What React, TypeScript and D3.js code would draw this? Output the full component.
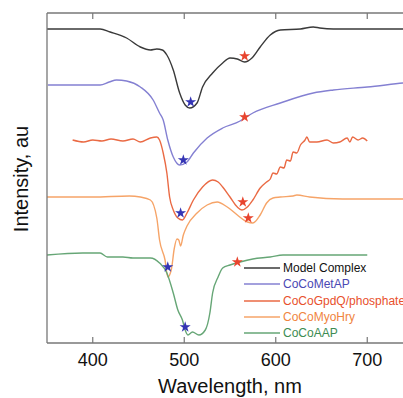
import React from "react";
import * as d3 from "d3";

// wavelength (nm) / intensity (arbitrary units, offset per trace)
const modelWl = [350, 380, 408, 419, 437, 452, 463, 470, 476, 481, 488, 495, 501, 506, 514, 520, 531, 542, 550, 558, 566, 574, 583, 594, 605, 627, 641, 648, 663, 700, 750];
const modelI = [314, 314, 314, 311, 305, 296, 293, 294, 293, 288, 273, 250, 238, 235, 240, 256, 270, 280, 285, 284, 281, 285, 296, 308, 313, 314, 316, 315, 314, 314, 314];

const metWl = [351, 372, 408, 418, 426, 437, 452, 466, 473, 477, 482, 488, 495, 503, 510, 525, 542, 561, 566, 575, 605, 641, 663, 700, 739, 750];
const metI = [258, 258, 258, 261, 263, 262, 256, 243, 230, 223, 203, 186, 178, 181, 190, 205, 215, 222, 225, 230, 240, 250, 253, 256, 260, 261];

const gpdWl = [378, 390, 400, 410, 420, 433, 444, 452, 463, 470, 473, 477, 481, 484, 488, 493, 498, 503, 510, 520, 531, 537, 542, 550, 558, 563, 569, 575, 583, 590, 594, 597, 601, 605, 609, 612, 616, 619, 623, 627, 632, 634, 637, 645, 656, 663, 670, 678, 681, 684, 690, 695, 700];
const gpdI = [203, 201, 203, 202, 204, 202, 204, 201, 205, 206, 203, 190, 170, 146, 133, 125, 123, 130, 143, 156, 163, 161, 156, 146, 136, 133, 136, 143, 155, 161, 164, 170, 169, 176, 175, 183, 182, 191, 190, 198, 203, 206, 201, 201, 203, 200, 201, 205, 201, 206, 203, 205, 202];

const myoWl = [350, 400, 440, 452, 463, 470, 473, 479, 482, 486, 489, 492, 494, 496, 499, 503, 514, 525, 536, 547, 558, 569, 575, 583, 590, 597, 605, 619, 623, 637, 673, 739, 750];
const myoI = [146, 146, 147, 146, 143, 125, 103, 83, 66, 74, 94, 104, 103, 97, 108, 117, 130, 138, 141, 136, 128, 121, 120, 128, 140, 145, 146, 147, 148, 146, 144, 144, 144];

const aapWl = [350, 389, 408, 416, 433, 444, 452, 463, 473, 481, 488, 493, 498, 501, 504, 509, 516, 523, 528, 531, 537, 542, 550, 561, 575, 594, 608, 645, 700];
const aapI = [88, 90, 90, 86, 86, 85, 85, 85, 80, 70, 50, 33, 23, 13, 8, 11, 8, 13, 30, 50, 66, 75, 78, 81, 84, 86, 88, 88, 88];

const blueStarWl = [507, 499, 496, 482, 501];
const blueStarI = [241, 183, 130, 76, 16];
const redStarWl = [566, 566, 564, 570, 558];
const redStarI = [287, 226, 141, 125, 81];

const names = ["Model Complex", "CoCoMetAP", "CoCoGpdQ/phosphate", "CoCoMyoHry", "CoCoAAP"];
const lineColors = ["#3a3a3a", "#8480d2", "#ea6a44", "#f6a468", "#66a676"];
const textColors = ["#111111", "#4a48b4", "#e8502c", "#f0843e", "#3c8c52"];
const xTicks = [400, 500, 600, 700];

const W = 403;
const H = 398;
const left = 47;
const right = 413;
const top = 13;
const bottom = 343;

export default function App() {
  const x = d3.scaleLinear().domain([350, 750]).range([left, right]);
  const y = d3.scaleLinear().domain([0, 330]).range([bottom, top]);

  const series = [
    [modelWl, modelI],
    [metWl, metI],
    [gpdWl, gpdI],
    [myoWl, myoI],
    [aapWl, aapI],
  ];

  const line = d3
    .line<[number, number]>()
    .x((d) => x(d[0]))
    .y((d) => y(d[1]))
    .curve(d3.curveMonotoneX);

  const star = d3.symbol().type(d3.symbolStar).size(38);
  const font = "'Liberation Sans', Arial, sans-serif";
  const axisColor = "#777";

  return (
    <svg width={W} height={H} style={{ position: "absolute", left: 0, top: 0, background: "#fff" }}>
      <defs>
        <clipPath id="plot">
          <rect x={left} y={top} width={right - left} height={bottom - top} />
        </clipPath>
      </defs>

      <g clipPath="url(#plot)">
        {series.map((s, i) => (
          <path
            key={i}
            d={line(s[0].map((w, j) => [w, s[1][j]] as [number, number])) || ""}
            fill="none"
            stroke={lineColors[i]}
            strokeWidth={1.4}
            strokeLinejoin="round"
          />
        ))}
        {blueStarWl.map((w, i) => (
          <path key={"b" + i} d={star() || ""} transform={`translate(${x(w)},${y(blueStarI[i])})`} fill="#3434b4" />
        ))}
        {redStarWl.map((w, i) => (
          <path key={"r" + i} d={star() || ""} transform={`translate(${x(w)},${y(redStarI[i])})`} fill="#e8442e" />
        ))}
      </g>

      {/* frame */}
      <line x1={left} x2={left} y1={top} y2={bottom} stroke={axisColor} strokeWidth={1.3} />
      <line x1={left} x2={W} y1={top} y2={top} stroke={axisColor} strokeWidth={1.3} />
      <line x1={left} x2={W} y1={bottom} y2={bottom} stroke={axisColor} strokeWidth={1.3} />

      {xTicks.map((t) => (
        <g key={t}>
          <line x1={x(t)} x2={x(t)} y1={top} y2={top + 6} stroke={axisColor} strokeWidth={1.2} />
          <line x1={x(t)} x2={x(t)} y1={bottom} y2={bottom - 6} stroke={axisColor} strokeWidth={1.2} />
          <text x={x(t)} y={366} textAnchor="middle" fontFamily={font} fontSize={18} fill="#111">
            {t}
          </text>
        </g>
      ))}

      <text x={(left + right) / 2} y={393} textAnchor="middle" fontFamily={font} fontSize={20} fill="#111">
        Wavelength, nm
      </text>
      <text
        transform={`translate(28,179) rotate(-90)`}
        textAnchor="middle"
        fontFamily={font}
        fontSize={20}
        fill="#111"
      >
        Intensity, au
      </text>

      {/* legend */}
      {names.map((n, i) => {
        const ly = [268, 284, 301, 317, 333][i];
        return (
          <g key={n}>
            <line x1={244} x2={280} y1={ly} y2={ly} stroke={lineColors[i]} strokeWidth={1.4} />
            <text x={283} y={ly} dy="0.35em" fontFamily={font} fontSize={12} fill={textColors[i]}>
              {n}
            </text>
          </g>
        );
      })}
    </svg>
  );
}
